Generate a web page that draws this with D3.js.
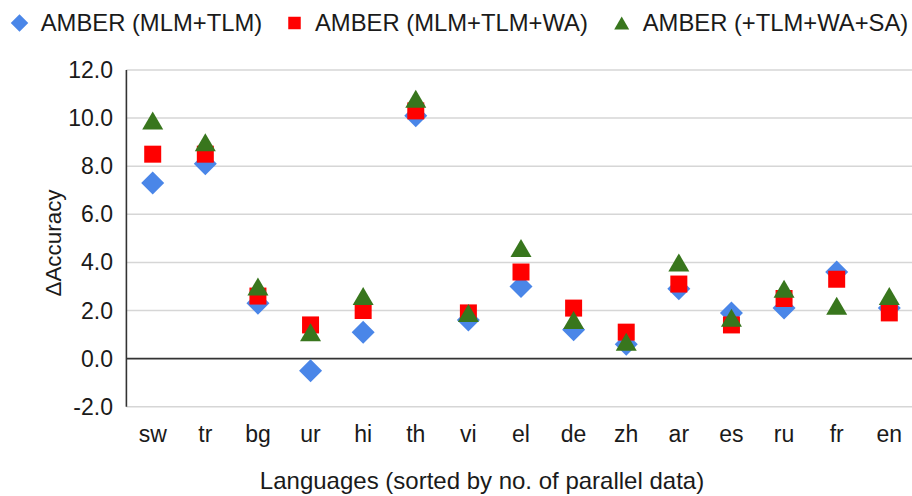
<!DOCTYPE html>
<html>
<head>
<meta charset="utf-8">
<script src="https://cdn.jsdelivr.net/npm/d3@7"></script>
<style>
  html, body { margin: 0; padding: 0; background: #fff; }
  svg { display: block; font-family: "Liberation Sans", Arial, sans-serif; }
</style>
</head>
<body>
<svg id="chart" width="912" height="496"></svg>
<script>
const categories = ["sw","tr","bg","ur","hi","th","vi","el","de","zh","ar","es","ru","fr","en"];
const seriesNames = ["AMBER (MLM+TLM)", "AMBER (MLM+TLM+WA)", "AMBER (+TLM+WA+SA)"];
const mlmTlm     = [7.3, 8.1, 2.3, -0.5, 1.1, 10.1, 1.6, 3.0, 1.2, 0.6, 2.9, 1.9, 2.1, 3.6, 2.1];
const mlmTlmWa   = [8.5, 8.5, 2.6, 1.4, 2.0, 10.3, 1.9, 3.6, 2.1, 1.1, 3.1, 1.4, 2.5, 3.3, 1.9];
const tlmWaSa    = [9.9, 9.0, 3.0, 1.1, 2.6, 10.8, 1.9, 4.6, 1.6, 0.7, 4.0, 1.7, 2.9, 2.2, 2.6];
const yTicks = [-2, 0, 2, 4, 6, 8, 10, 12];

(function () {
const svg = d3.select("#chart");
const pLeft = 126.4, pRight = 915.6, pTop = 70, pBottom = 406.7;

const x = d3.scaleBand().domain(categories).range([pLeft, pRight]);
const y = d3.scaleLinear().domain([-2, 12]).range([pBottom, pTop]);

// gridlines
svg.append("g").selectAll("line").data(yTicks.filter(t => t !== 0)).join("line")
  .attr("x1", pLeft).attr("x2", 912)
  .attr("y1", d => y(d)).attr("y2", d => y(d))
  .attr("stroke", "#d6d6d6").attr("stroke-width", 1.5);

// zero line
svg.append("line")
  .attr("x1", pLeft).attr("x2", 912)
  .attr("y1", y(0)).attr("y2", y(0))
  .attr("stroke", "#333").attr("stroke-width", 1.6);

// y axis line
svg.append("line")
  .attr("x1", pLeft).attr("x2", pLeft)
  .attr("y1", y(12)).attr("y2", y(-2))
  .attr("stroke", "#333").attr("stroke-width", 1.6);

// y tick labels
svg.append("g").selectAll("text").data(yTicks).join("text")
  .attr("x", 113).attr("y", d => y(d))
  .attr("dy", "0.35em")
  .attr("text-anchor", "end")
  .attr("font-size", 23).attr("fill", "#1a1a1a")
  .text(d => d.toFixed(1));

// x tick labels
svg.append("g").selectAll("text").data(categories).join("text")
  .attr("x", d => x(d) + x.bandwidth() / 2).attr("y", 442)
  .attr("text-anchor", "middle")
  .attr("font-size", 23).attr("fill", "#1a1a1a")
  .text(d => d);

// axis titles
svg.append("text")
  .attr("x", 482).attr("y", 489)
  .attr("text-anchor", "middle")
  .attr("font-size", 24).attr("fill", "#1a1a1a")
  .text("Languages (sorted by no. of parallel data)");

svg.append("text")
  .attr("transform", "translate(61,243) rotate(-90)")
  .attr("text-anchor", "middle")
  .attr("font-size", 22.4).attr("fill", "#1a1a1a")
  .text("ΔAccuracy");

// marker shapes
function diamondPath(s) { const h = s / 2; return `M0,${-h}L${h},0L0,${h}L${-h},0Z`; }
function squarePath(s) { const h = s / 2; return `M${-h},${-h}H${h}V${h}H${-h}Z`; }
function trianglePath(w, hgt) { const a = w / 2, b = hgt / 2; return `M0,${-b}L${a},${b}L${-a},${b}Z`; }

const colors = ["#4a86e8", "#ff0000", "#38761d"];
const data = [mlmTlm, mlmTlmWa, tlmWaSa];
const shapes = [diamondPath(23), squarePath(17), trianglePath(21, 18)];

data.forEach((vals, i) => {
  svg.append("g").selectAll("path").data(vals).join("path")
    .attr("transform", (d, j) => `translate(${x(categories[j]) + x.bandwidth() / 2},${y(d)})`)
    .attr("d", shapes[i])
    .attr("fill", colors[i]);
});

// legend
const legendItems = [
  { mx: 19.5, tx: 40.7, shape: diamondPath(17.5) },
  { mx: 294.5, tx: 315, shape: squarePath(12.5) },
  { mx: 621.7, tx: 642.7, shape: trianglePath(15, 13) }
];
legendItems.forEach((it, i) => {
  svg.append("path")
    .attr("transform", `translate(${it.mx},23)`)
    .attr("d", it.shape)
    .attr("fill", colors[i]);
  svg.append("text")
    .attr("x", it.tx).attr("y", 31)
    .attr("font-size", 23.8).attr("fill", "#1a1a1a")
    .text(seriesNames[i]);
});
})();
</script>
</body>
</html>
